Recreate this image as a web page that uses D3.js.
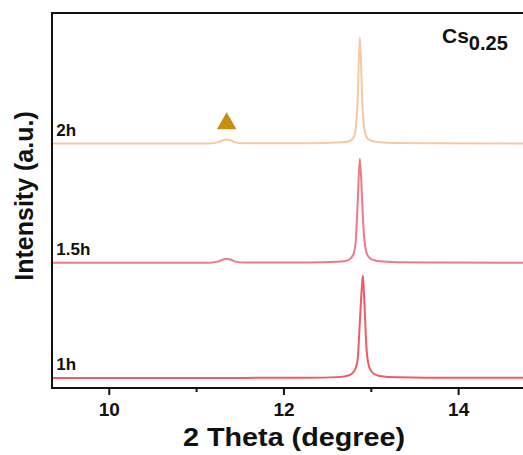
<html>
  <head>
    <meta charset="utf-8">
    <style>
      body { margin: 0; background: #fff; }
      text { font-family: "Liberation Sans", Arial, sans-serif; }
    </style>
  </head>
  <body>
    <script src="https://d3js.org/d3.v7.min.js"></script>
    <script>
      // Sample points (2 theta, degree)
      var twoTheta = [9.35, 10.5, 11.15, 11.25, 11.3, 11.35, 11.4, 11.45, 11.55, 12.3, 12.6, 12.7, 12.75,
                      12.8, 12.825, 12.85, 12.875, 12.9, 12.91, 12.925, 12.95, 12.975, 13.0, 13.05, 13.1,
                      13.3, 13.8, 14.8];

      // Intensity above each trace's own baseline (a.u.)
      var int1h  = [0, 0, 0, 0, 0, 0, 0, 0, 0, 0.05, 0.2, 0.4, 0.7,
                    1.5, 2.5, 5, 15, 25, 27.3, 21, 8, 3.5, 2, 0.9, 0.5,
                    0.15, 0.05, 0];
      var int15h = [0, 0, 0, 0.3, 0.8, 1.1, 0.8, 0.3, 0.05, 0.1, 0.25, 0.4, 0.8,
                    2.2, 5, 16, 27.8, 17, 12, 6.5, 2.8, 1.6, 1.0, 0.6, 0.4,
                    0.15, 0.05, 0];
      var int2h  = [0, 0, 0, 0.3, 0.8, 1.1, 0.8, 0.3, 0.05, 0.1, 0.25, 0.4, 0.6,
                    1.5, 3.5, 12, 28.4, 13, 8, 4, 1.8, 1.1, 0.8, 0.5, 0.35,
                    0.15, 0.05, 0];

      var seriesNames = ['1h', '1.5h', '2h'];
      var seriesValues = [int1h, int15h, int2h];
      var seriesOffsets = [2.7, 33.4, 65.2]; // stacking offsets (a.u.)
      var seriesColors = ['#f05a6a', '#ee7a88', '#f7c8a4'];

      var xTicks = [10, 12, 14];
      var xMinorTicks = [11, 13];

      // impurity marker (triangle)
      var markerX = [11.35];
      var markerY = [70.5];

      var W = 523, H = 455;
      var LEFT = 52, TOP = 13, BOTTOM = 388, RIGHT = 528;

      var svg = d3.select('body').append('svg')
        .attr('width', W)
        .attr('height', H);

      var x = d3.scaleLinear().domain([9.35, 14.8]).range([LEFT, RIGHT]);
      var y = d3.scaleLinear().domain([0, 100]).range([BOTTOM, TOP]);

      svg.append('clipPath').attr('id', 'plot')
        .append('rect')
        .attr('x', LEFT).attr('y', TOP)
        .attr('width', RIGHT - LEFT).attr('height', BOTTOM - TOP);

      var line = d3.line()
        .x(function(d) { return x(d[0]); })
        .y(function(d) { return y(d[1]); })
        .curve(d3.curveMonotoneX);

      var traces = svg.append('g').attr('clip-path', 'url(#plot)');

      seriesValues.forEach(function(vals, i) {
        var pts = twoTheta.map(function(t, j) { return [t, vals[j] + seriesOffsets[i]]; });
        traces.append('path')
          .datum(pts)
          .attr('fill', 'none')
          .attr('stroke', seriesColors[i])
          .attr('stroke-width', 2)
          .attr('stroke-linejoin', 'round')
          .attr('d', line);

        svg.append('text')
          .attr('x', x(9.4))
          .attr('y', y(seriesOffsets[i]) - 8)
          .attr('font-size', '17px')
          .attr('font-weight', 'bold')
          .attr('fill', '#111')
          .text(seriesNames[i]);
      });

      // triangle marker
      svg.selectAll('.marker')
        .data(markerX)
        .enter().append('path')
        .attr('class', 'marker')
        .attr('transform', function(d, i) { return 'translate(' + x(d) + ',' + y(markerY[i]) + ')'; })
        .attr('d', d3.symbol().type(d3.symbolTriangle).size(167))
        .attr('fill', '#c78f0b');

      // x axis
      var xAxis = svg.append('g')
        .attr('transform', 'translate(0,' + BOTTOM + ')')
        .call(d3.axisBottom(x).tickValues(xTicks).tickSize(7).tickPadding(8).tickFormat(d3.format('d')));
      xAxis.select('.domain').remove();
      xAxis.selectAll('line').attr('stroke', '#111').attr('stroke-width', 2);
      xAxis.selectAll('text')
        .attr('font-size', '19px')
        .attr('font-weight', 'bold')
        .attr('fill', '#111')
        .attr('font-family', '"Liberation Sans", Arial, sans-serif');

      var xMinor = svg.append('g')
        .attr('transform', 'translate(0,' + BOTTOM + ')')
        .call(d3.axisBottom(x).tickValues(xMinorTicks).tickSize(4).tickFormat(''));
      xMinor.select('.domain').remove();
      xMinor.selectAll('line').attr('stroke', '#111').attr('stroke-width', 2);

      // frame
      svg.append('path')
        .attr('d', 'M' + RIGHT + ',' + TOP + 'H' + LEFT + 'V' + BOTTOM + 'H' + RIGHT)
        .attr('fill', 'none')
        .attr('stroke', '#111')
        .attr('stroke-width', 2);

      // axis titles
      svg.append('text')
        .attr('x', 294)
        .attr('y', 446)
        .attr('text-anchor', 'middle')
        .attr('font-size', '25px')
        .attr('font-weight', 'bold')
        .attr('fill', '#111')
        .attr('textLength', 222)
        .attr('lengthAdjust', 'spacingAndGlyphs')
        .text('2 Theta (degree)');

      svg.append('text')
        .attr('transform', 'translate(33,196) rotate(-90)')
        .attr('text-anchor', 'middle')
        .attr('font-size', '25px')
        .attr('font-weight', 'bold')
        .attr('fill', '#111')
        .text('Intensity (a.u.)');

      // sample label
      var lab = svg.append('text')
        .attr('x', 442)
        .attr('y', 43)
        .attr('font-size', '21px')
        .attr('font-weight', 'bold')
        .attr('fill', '#111');
      lab.append('tspan').text('Cs');
      lab.append('tspan').attr('dy', 7).attr('font-size', '20px').text('0.25');
    </script>
  </body>
</html>
